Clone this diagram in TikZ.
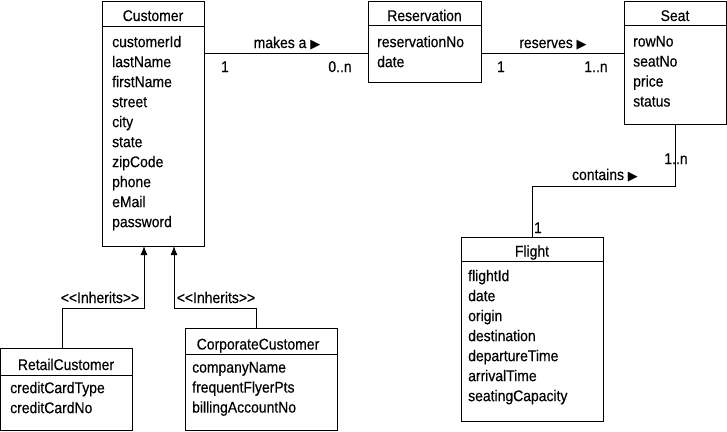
\documentclass[tikz,border=0pt]{standalone}
\usepackage{fontspec}
\setmainfont{Liberation Sans}[FakeStretch=0.9,FakeBold=0.4]
\newfontfamily\symfont{DejaVu Sans}
\usetikzlibrary{arrows.meta}

\newcommand{\tri}{{\symfont\fontsize{13}{13}\selectfont ▶}}

\tikzset{
    cls/.style={draw, line width=1pt, inner sep=0pt, outer sep=0pt},
    ttl/.style={font=\fontsize{15.5}{20}\selectfont, inner sep=0pt, anchor=base},
    attr/.style={font=\fontsize{15.5}{20}\selectfont, align=left, inner sep=0pt, anchor=north west},
    lbl/.style={font=\fontsize{15.5}{16}\selectfont, inner sep=0pt, anchor=base},
    conn/.style={line width=1pt},
    inh/.style={line width=1pt, -{Latex[length=9pt,width=7pt]}}
}

\begin{document}
\begin{tikzpicture}[x=1pt,y=-1pt]
    \useasboundingbox (0,0) rectangle (727,431);

    % classes
    \node[cls, minimum width=102pt, minimum height=245pt] (customer) at (153,123.5) {};
    \draw[conn] (customer.west |- 0,26) -- (customer.east |- 0,26);
    \node[ttl] (customer-t) at (153,21) {Customer};
    \node[attr] (customer-a) at (112,35.7) {customerId\\lastName\\firstName\\street\\city\\state\\zipCode\\phone\\eMail\\password};

    \node[cls, minimum width=113pt, minimum height=81pt] (reservation) at (424.5,41.5) {};
    \draw[conn] (reservation.west |- 0,25) -- (reservation.east |- 0,25);
    \node[ttl] (reservation-t) at (424.5,21) {Reservation};
    \node[attr] (reservation-a) at (377,35.7) {reservationNo\\date};

    \node[cls, minimum width=102pt, minimum height=123pt] (seat) at (675,62.5) {};
    \draw[conn] (seat.west |- 0,25) -- (seat.east |- 0,25);
    \node[ttl] (seat-t) at (675,21) {Seat};
    \node[attr] (seat-a) at (633,35.7) {rowNo\\seatNo\\price\\status};

    \node[cls, minimum width=142pt, minimum height=184pt] (flight) at (532,329) {};
    \draw[conn] (flight.west |- 0,261) -- (flight.east |- 0,261);
    \node[ttl] (flight-t) at (532,256.5) {Flight};
    \node[attr] (flight-a) at (468,269.7) {flightId\\date\\origin\\destination\\departureTime\\arrivalTime\\seatingCapacity};

    \node[cls, minimum width=131.5pt, minimum height=82pt] (retail) at (66.25,389) {};
    \draw[conn] (retail.west |- 0,375) -- (retail.east |- 0,375);
    \node[ttl] (retail-t) at (66,370) {RetailCustomer};
    \node[attr] (retail-a) at (10,381.7) {creditCardType\\creditCardNo};

    \node[cls, minimum width=152pt, minimum height=102pt] (corporate) at (261,379) {};
    \draw[conn] (corporate.west |- 0,354) -- (corporate.east |- 0,354);
    \node[ttl] (corporate-t) at (258,349.5) {CorporateCustomer};
    \node[attr] (corporate-a) at (192,361.7) {companyName\\frequentFlyerPts\\billingAccountNo};

    % associations
    \draw[conn] (customer.east |- 0,53) -- (reservation.west |- 0,53);
    \node[lbl] (makesa) at (287,48) {makes a \tri};
    \node[lbl] (makes-1) at (225,72) {1};
    \node[lbl] (makes-0n) at (340,72) {0..n};

    \draw[conn] (reservation.east |- 0,53) -- (seat.west |- 0,53);
    \node[lbl] (reserves) at (553,48) {reserves \tri};
    \node[lbl] (reserves-1) at (501,72) {1};
    \node[lbl] (reserves-1n) at (596,72) {1..n};

    \coordinate (cb1) at (675,186);
    \coordinate (cb2) at (532,186);
    \draw[conn] (seat.south -| cb1) -- (cb1) -- (cb2) -- (flight.north -| cb2);
    \node[lbl] (contains) at (605,180) {contains \tri};
    \node[lbl] (contains-1n) at (676,164) {1..n};
    \node[lbl] (contains-1) at (538,233) {1};

    % inheritance
    \coordinate (rb1) at (62,308);
    \coordinate (rb2) at (144,308);
    \draw[inh] (retail.north -| rb1) -- (rb1) -- (rb2) -- (customer.south -| rb2);
    \node[lbl] (inherits-r) at (100,303) {{<}{<}Inherits{>}{>}};

    \coordinate (cc1) at (256,308);
    \coordinate (cc2) at (174,308);
    \draw[inh] (corporate.north -| cc1) -- (cc1) -- (cc2) -- (customer.south -| cc2);
    \node[lbl] (inherits-c) at (216,303) {{<}{<}Inherits{>}{>}};
\end{tikzpicture}
\end{document}
